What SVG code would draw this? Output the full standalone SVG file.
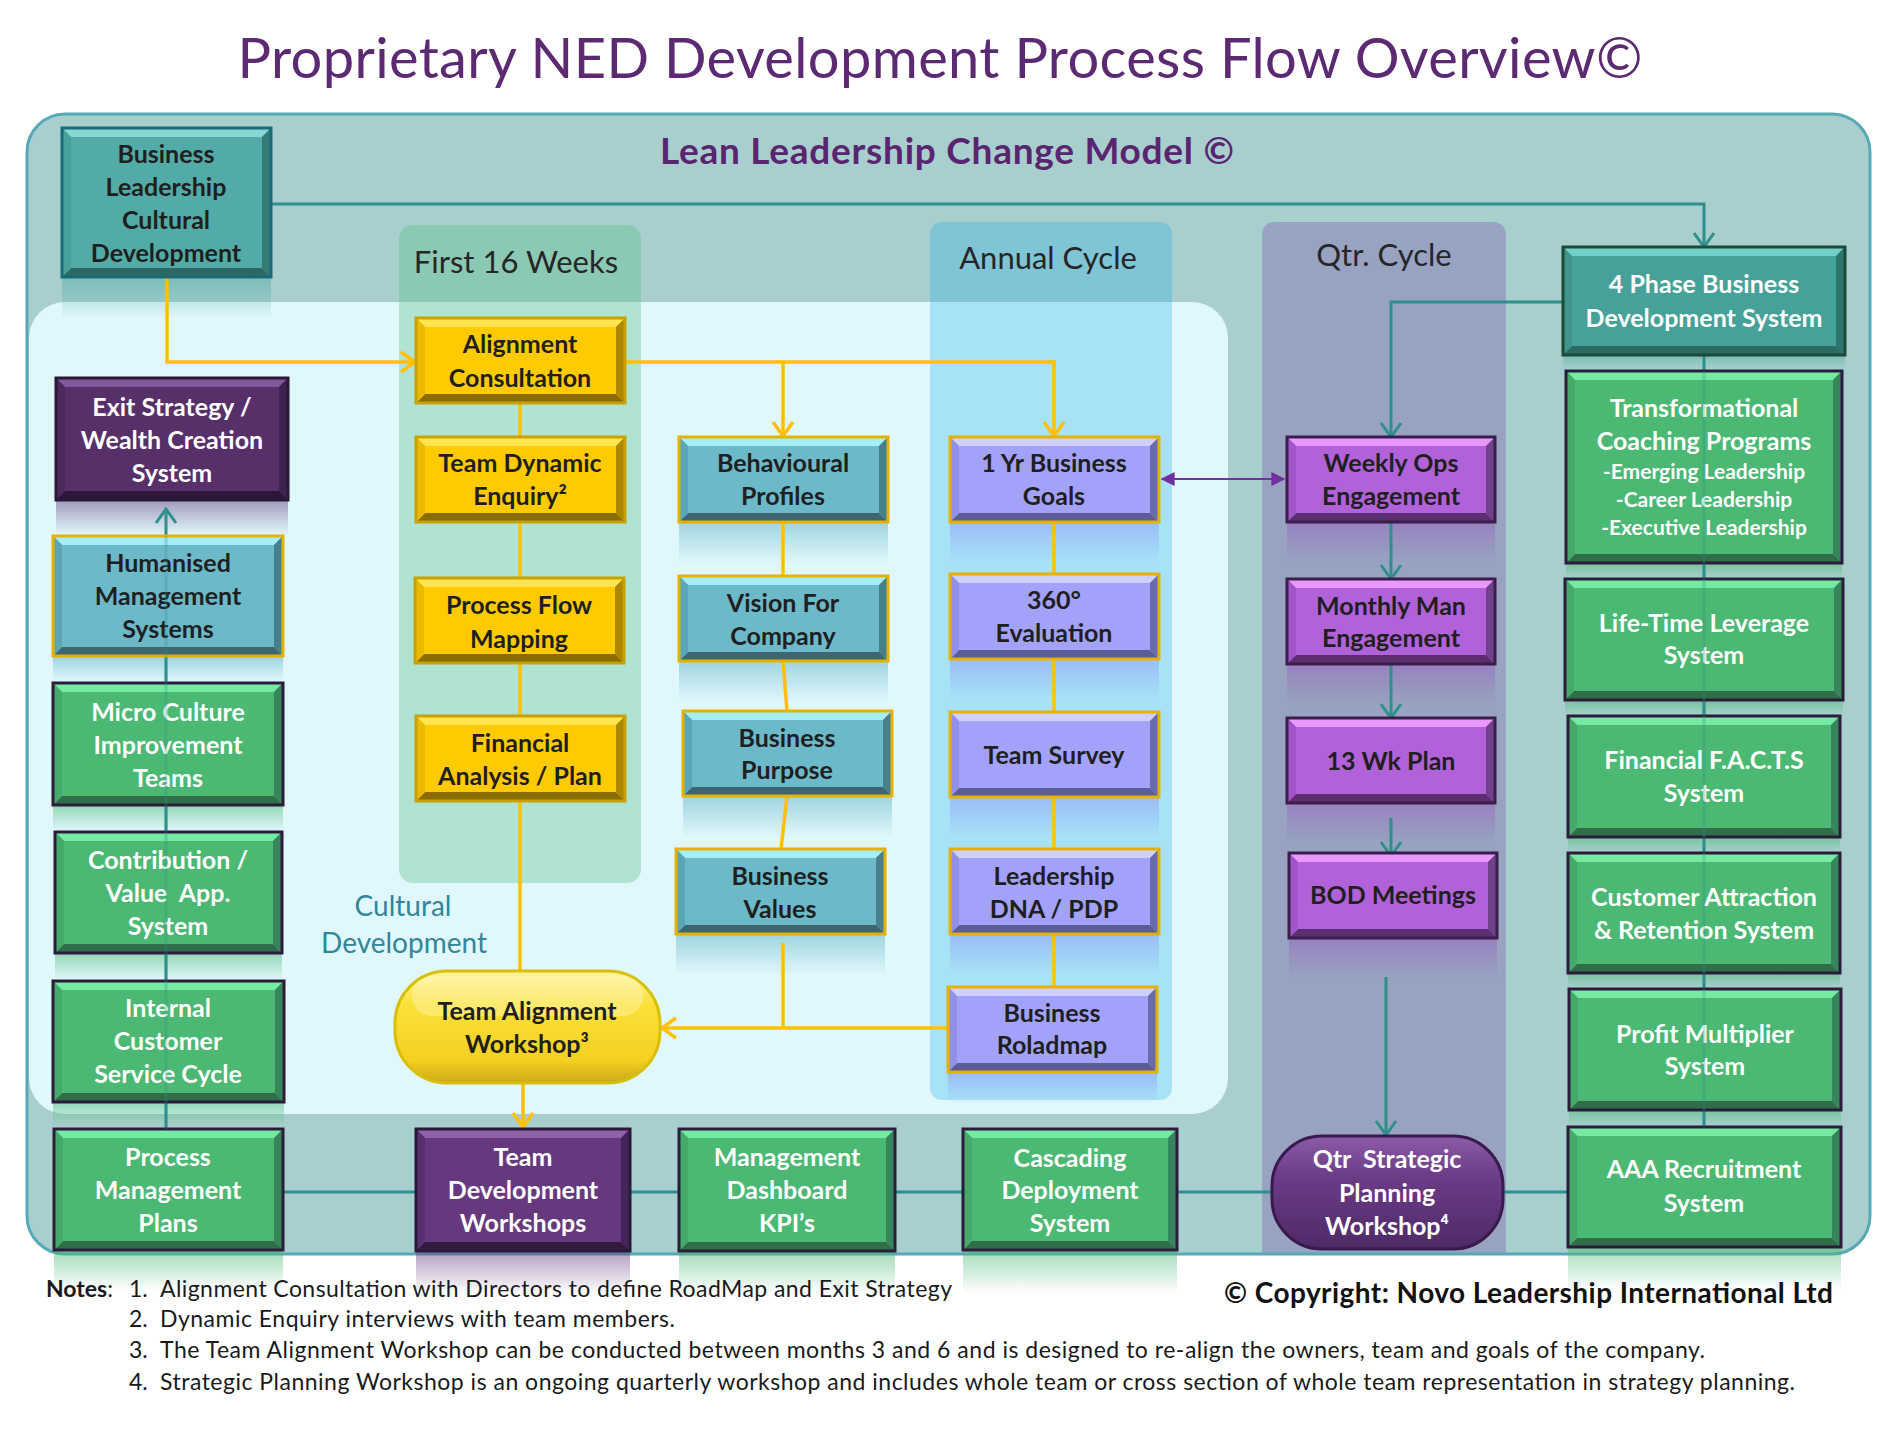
<svg xmlns="http://www.w3.org/2000/svg" width="1892" height="1440" viewBox="0 0 1892 1440">
<style>
text{font-family:Lato,"Open Sans","Liberation Sans",sans-serif}
.nd text{font-weight:700;font-size:25px;text-anchor:middle}
.nd .sm{font-size:21px}
.dk{fill:#1f1f1f}.wt{fill:#ffffff}
.bd{fill:none;stroke-width:3}
.yel .f{fill:#ffcb00}.yel .t{fill:#ffe650}.yel .b{fill:#8a6c00}.yel .l{fill:#eab900}.yel .r{fill:#ad8700}.yel .bd{stroke:#c7a200}
.blu .f{fill:#6cb9c9}.blu .t{fill:#a6eef6}.blu .b{fill:#3e6670}.blu .l{fill:#5ba6b5}.blu .r{fill:#47808c}.blu .bd{stroke:#e6b200}
.lav .f{fill:#a2a2fa}.lav .t{fill:#d0d0ff}.lav .b{fill:#5c5c96}.lav .l{fill:#9090e6}.lav .r{fill:#6a6aae}.lav .bd{stroke:#e6b200}
.mag .f{fill:#b262d8}.mag .t{fill:#e898ff}.mag .b{fill:#5c2e70}.mag .l{fill:#a055c8}.mag .r{fill:#70408a}.mag .bd{stroke:#3b1d4a}
.grn .f{fill:#4bb874}.grn .t{fill:#74eaa2}.grn .b{fill:#2f6e48}.grn .l{fill:#45a96a}.grn .r{fill:#37855a}.grn .bd{stroke:#2c1c3c}
.tea .f{fill:#52aba6}.tea .t{fill:#86d8d0}.tea .b{fill:#2d6864}.tea .l{fill:#48a09a}.tea .r{fill:#357a75}.tea .bd{stroke:#1a6a78}
.tea2 .f{fill:#46a198}.tea2 .t{fill:#72d0c6}.tea2 .b{fill:#2c6a62}.tea2 .l{fill:#3f948b}.tea2 .r{fill:#30756d}.tea2 .bd{stroke:#1c4a34}
.dpu .f{fill:#583069}.dpu .t{fill:#82589a}.dpu .b{fill:#2b1839}.dpu .l{fill:#4d2a5e}.dpu .r{fill:#3d2250}.dpu .bd{stroke:#2b1838}
.dpu2 .f{fill:#66397e}.dpu2 .t{fill:#8e62a6}.dpu2 .b{fill:#301a40}.dpu2 .l{fill:#573070}.dpu2 .r{fill:#45265a}.dpu2 .bd{stroke:#2b1838}
.ct{fill:none;stroke:#2f8f8b;stroke-width:3}
.cy{fill:none;stroke:#ffc000;stroke-width:3.5}
.hd{font-size:31px;fill:#262626;text-anchor:middle}
.note{font-size:23px;fill:#1a1a1a}
</style>
<defs>
<marker id="mT" viewBox="0 0 18 24" refX="16" refY="12" markerWidth="18" markerHeight="24" markerUnits="userSpaceOnUse" orient="auto"><path d="M2,2 L16,12 L2,22" fill="none" stroke="#2f8f8b" stroke-width="3"/></marker>
<marker id="mY" viewBox="0 0 18 24" refX="16" refY="12" markerWidth="18" markerHeight="24" markerUnits="userSpaceOnUse" orient="auto"><path d="M2,2 L16,12 L2,22" fill="none" stroke="#ffc000" stroke-width="3.5"/></marker>
<marker id="mP" viewBox="0 0 10 10" refX="9" refY="5" markerWidth="14" markerHeight="16" markerUnits="userSpaceOnUse" orient="auto-start-reverse"><path d="M0,0 L10,5 L0,10 z" fill="#7030a0"/></marker>
<linearGradient id="rfB" x1="0" y1="0" x2="0" y2="1"><stop offset="0" stop-color="#6cb9c9" stop-opacity=".55"/><stop offset="1" stop-color="#6cb9c9" stop-opacity="0"/></linearGradient>
<linearGradient id="rfL" x1="0" y1="0" x2="0" y2="1"><stop offset="0" stop-color="#8f9ff5" stop-opacity=".55"/><stop offset="1" stop-color="#8f9ff5" stop-opacity="0"/></linearGradient>
<linearGradient id="rfM" x1="0" y1="0" x2="0" y2="1"><stop offset="0" stop-color="#9a6cc0" stop-opacity=".6"/><stop offset="1" stop-color="#9a6cc0" stop-opacity="0"/></linearGradient>
<linearGradient id="rfG" x1="0" y1="0" x2="0" y2="1"><stop offset="0" stop-color="#4bb874" stop-opacity=".5"/><stop offset="1" stop-color="#4bb874" stop-opacity="0"/></linearGradient>
<linearGradient id="rfT" x1="0" y1="0" x2="0" y2="1"><stop offset="0" stop-color="#52aba6" stop-opacity=".5"/><stop offset="1" stop-color="#52aba6" stop-opacity="0"/></linearGradient>
<linearGradient id="rfP" x1="0" y1="0" x2="0" y2="1"><stop offset="0" stop-color="#6a4282" stop-opacity=".5"/><stop offset="1" stop-color="#6a4282" stop-opacity="0"/></linearGradient>
<linearGradient id="gTAW" x1="0" y1="0" x2="0" y2="1"><stop offset="0" stop-color="#fff4a0"/><stop offset=".3" stop-color="#fbe03a"/><stop offset=".8" stop-color="#f4d020"/><stop offset="1" stop-color="#c9a818"/></linearGradient>
<linearGradient id="gQtr" x1="0" y1="0" x2="0" y2="1"><stop offset="0" stop-color="#8c5ca8"/><stop offset=".35" stop-color="#6c3c88"/><stop offset="1" stop-color="#4e2a66"/></linearGradient>
</defs>
<rect width="1892" height="1440" fill="#ffffff"/>
<text x="940" y="78" font-size="56" fill="#5c2a72" text-anchor="middle" textLength="1405">Proprietary NED Development Process Flow Overview©</text>

<g id="panels">
<rect x="27" y="114" width="1843" height="1140" rx="38" fill="#a8cfcd"/>
<rect x="29" y="302" width="1199" height="812" rx="36" fill="#e0f7fb"/>
<rect x="399" y="225" width="242" height="658" rx="14" fill="rgb(88,190,134)" fill-opacity=".35"/>
<rect x="930" y="222" width="242" height="878" rx="12" fill="rgb(20,170,235)" fill-opacity=".27"/>
<path d="M1262,1254 V236 Q1262,222 1276,222 H1492 Q1506,222 1506,236 V1254 Z" fill="#97a3c0"/>
<rect x="27" y="114" width="1843" height="1140" rx="38" fill="none" stroke="#56a9b6" stroke-width="3"/>
<text x="947" y="164" font-size="37" font-weight="700" fill="#5a2570" text-anchor="middle" textLength="574">Lean Leadership Change Model ©</text>
<text class="hd" x="516" y="273">First 16 Weeks</text>
<text class="hd" x="1048" y="269">Annual Cycle</text>
<text class="hd" x="1384" y="266">Qtr. Cycle</text>
<text x="403" y="916" font-size="28" fill="#31869a" text-anchor="middle">Cultural</text>
<text x="404" y="953" font-size="28" fill="#31869a" text-anchor="middle">Development</text>
</g>

<g id="reflections">
<rect x="62" y="278" width="209" height="40" fill="url(#rfT)"/>
<rect x="56" y="501" width="232" height="34" fill="url(#rfP)"/>
<rect x="53" y="657" width="230" height="25" fill="url(#rfB)"/>
<rect x="53" y="806" width="230" height="25" fill="url(#rfG)"/>
<rect x="55" y="954" width="227" height="26" fill="url(#rfG)"/>
<rect x="53" y="1103" width="231" height="25" fill="url(#rfG)"/>
<rect x="54" y="1251" width="229" height="40" fill="url(#rfG)"/>
<rect x="679" y="523" width="209" height="40" fill="url(#rfB)"/>
<rect x="679" y="662" width="209" height="40" fill="url(#rfB)"/>
<rect x="683" y="797" width="209" height="40" fill="url(#rfB)"/>
<rect x="676" y="935" width="209" height="40" fill="url(#rfB)"/>
<rect x="950" y="523" width="209" height="40" fill="url(#rfL)"/>
<rect x="950" y="660" width="209" height="40" fill="url(#rfL)"/>
<rect x="950" y="798" width="209" height="40" fill="url(#rfL)"/>
<rect x="950" y="935" width="209" height="40" fill="url(#rfL)"/>
<rect x="948" y="1073" width="209" height="30" fill="url(#rfL)"/>
<rect x="1287" y="523" width="208" height="40" fill="url(#rfM)"/>
<rect x="1287" y="665" width="208" height="40" fill="url(#rfM)"/>
<rect x="1287" y="804" width="208" height="40" fill="url(#rfM)"/>
<rect x="1289" y="939" width="208" height="40" fill="url(#rfM)"/>
<rect x="1563" y="356" width="282" height="14" fill="url(#rfT)"/>
<rect x="1566" y="564" width="276" height="14" fill="url(#rfG)"/>
<rect x="1565" y="701" width="278" height="14" fill="url(#rfG)"/>
<rect x="1568" y="838" width="272" height="14" fill="url(#rfG)"/>
<rect x="1568" y="974" width="272" height="14" fill="url(#rfG)"/>
<rect x="1569" y="1111" width="272" height="15" fill="url(#rfG)"/>
<rect x="1568" y="1248" width="273" height="42" fill="url(#rfG)"/>
<rect x="416" y="1252" width="214" height="42" fill="url(#rfP)"/>
<rect x="679" y="1252" width="216" height="42" fill="url(#rfG)"/>
<rect x="963" y="1251" width="214" height="42" fill="url(#rfG)"/>
</g>

<g id="connectors">
<path class="ct" d="M271,204 H1704 V247" marker-end="url(#mT)"/>
<path class="ct" d="M1704,355 V1127"/>
<path class="ct" d="M1563,302 H1391 V437" marker-end="url(#mT)"/>
<path class="ct" d="M1391,522 V579" marker-end="url(#mT)"/>
<path class="ct" d="M1391,664 V718" marker-end="url(#mT)"/>
<path class="ct" d="M1391,818 V856" marker-end="url(#mT)"/>
<path class="ct" d="M1386,977 V1135" marker-end="url(#mT)"/>
<path class="ct" d="M166,1129 V509" marker-end="url(#mT)"/>
<path class="ct" d="M283,1192 H1568"/>
<path class="cy" d="M167,277 V362 H415" marker-end="url(#mY)"/>
<path class="cy" d="M625,362 H1054 V436" marker-end="url(#mY)"/>
<path class="cy" d="M783,362 V436" marker-end="url(#mY)"/>
<path class="cy" d="M520,403 V971"/>
<path class="cy" d="M783,522 V576"/>
<path class="cy" d="M783,661 L787,711"/>
<path class="cy" d="M787,796 L781,849"/>
<path class="cy" d="M783,943 V1028"/>
<path class="cy" d="M948,1028 H662" marker-end="url(#mY)"/>
<path class="cy" d="M1054,522 V987"/>
<path class="cy" d="M523,1083 V1127" marker-end="url(#mY)"/>
<path d="M1162,479 H1284" fill="none" stroke="#7030a0" stroke-width="2" marker-start="url(#mP)" marker-end="url(#mP)"/>
</g>

<g id="n-blcd" class="nd tea"><rect class="f" x="62" y="128" width="209" height="149"/><path class="t" d="M62,128h209l-9,9h-191z"/><path class="b" d="M62,277h209l-9,-9h-191z"/><path class="l" d="M62,128l9,9v131l-9,9z"/><path class="r" d="M271,128l-9,9v131l9,9z"/><rect class="bd" x="62" y="128" width="209" height="149"/>
<text class="dk" x="166" y="163">Business</text><text class="dk" x="166" y="196">Leadership</text><text class="dk" x="166" y="229">Cultural</text><text class="dk" x="166" y="262">Development</text></g>

<g id="n-exit" class="nd dpu"><rect class="f" x="56" y="378" width="232" height="122"/><path class="t" d="M56,378h232l-9,9h-214z"/><path class="b" d="M56,500h232l-9,-9h-214z"/><path class="l" d="M56,378l9,9v104l-9,9z"/><path class="r" d="M288,378l-9,9v104l9,9z"/><rect class="bd" x="56" y="378" width="232" height="122"/>
<text class="wt" x="172" y="416">Exit Strategy /</text><text class="wt" x="172" y="449">Wealth Creation</text><text class="wt" x="172" y="482">System</text></g>

<g id="n-humanised" class="nd blu"><rect class="f" x="53" y="536" width="230" height="120"/><path class="t" d="M53,536h230l-9,9h-212z"/><path class="b" d="M53,656h230l-9,-9h-212z"/><path class="l" d="M53,536l9,9v102l-9,9z"/><path class="r" d="M283,536l-9,9v102l9,9z"/><rect class="bd" x="53" y="536" width="230" height="120"/>
<text class="dk" x="168" y="572">Humanised</text><text class="dk" x="168" y="605">Management</text><text class="dk" x="168" y="638">Systems</text></g>

<g id="n-micro" class="nd grn"><rect class="f" x="53" y="683" width="230" height="122"/><path class="t" d="M53,683h230l-9,9h-212z"/><path class="b" d="M53,805h230l-9,-9h-212z"/><path class="l" d="M53,683l9,9v104l-9,9z"/><path class="r" d="M283,683l-9,9v104l9,9z"/><rect class="bd" x="53" y="683" width="230" height="122"/>
<text class="wt" x="168" y="721">Micro Culture</text><text class="wt" x="168" y="754">Improvement</text><text class="wt" x="168" y="787">Teams</text></g>

<g id="n-contribution" class="nd grn"><rect class="f" x="55" y="832" width="227" height="121"/><path class="t" d="M55,832h227l-9,9h-209z"/><path class="b" d="M55,953h227l-9,-9h-209z"/><path class="l" d="M55,832l9,9v103l-9,9z"/><path class="r" d="M282,832l-9,9v103l9,9z"/><rect class="bd" x="55" y="832" width="227" height="121"/>
<text class="wt" x="168" y="869">Contribution /</text><text class="wt" x="168" y="902" style="white-space:pre">Value  App.</text><text class="wt" x="168" y="935">System</text></g>

<g id="n-internal" class="nd grn"><rect class="f" x="53" y="981" width="231" height="121"/><path class="t" d="M53,981h231l-9,9h-213z"/><path class="b" d="M53,1102h231l-9,-9h-213z"/><path class="l" d="M53,981l9,9v103l-9,9z"/><path class="r" d="M284,981l-9,9v103l9,9z"/><rect class="bd" x="53" y="981" width="231" height="121"/>
<text class="wt" x="168" y="1017">Internal</text><text class="wt" x="168" y="1050">Customer</text><text class="wt" x="168" y="1083">Service Cycle</text></g>

<g id="n-procmgmt" class="nd grn"><rect class="f" x="54" y="1129" width="229" height="121"/><path class="t" d="M54,1129h229l-9,9h-211z"/><path class="b" d="M54,1250h229l-9,-9h-211z"/><path class="l" d="M54,1129l9,9v103l-9,9z"/><path class="r" d="M283,1129l-9,9v103l9,9z"/><rect class="bd" x="54" y="1129" width="229" height="121"/>
<text class="wt" x="168" y="1166">Process</text><text class="wt" x="168" y="1199">Management</text><text class="wt" x="168" y="1232">Plans</text></g>

<g id="n-alignment" class="nd yel"><rect class="f" x="416" y="318" width="209" height="85"/><path class="t" d="M416,318h209l-9,9h-191z"/><path class="b" d="M416,403h209l-9,-9h-191z"/><path class="l" d="M416,318l9,9v67l-9,9z"/><path class="r" d="M625,318l-9,9v67l9,9z"/><rect class="bd" x="416" y="318" width="209" height="85"/>
<text class="dk" x="520" y="353">Alignment</text><text class="dk" x="520" y="387">Consultation</text></g>

<g id="n-teamdyn" class="nd yel"><rect class="f" x="416" y="437" width="209" height="85"/><path class="t" d="M416,437h209l-9,9h-191z"/><path class="b" d="M416,522h209l-9,-9h-191z"/><path class="l" d="M416,437l9,9v67l-9,9z"/><path class="r" d="M625,437l-9,9v67l9,9z"/><rect class="bd" x="416" y="437" width="209" height="85"/>
<text class="dk" x="520" y="472">Team Dynamic</text><text class="dk" x="520" y="505">Enquiry²</text></g>

<g id="n-procflow" class="nd yel"><rect class="f" x="415" y="578" width="209" height="85"/><path class="t" d="M415,578h209l-9,9h-191z"/><path class="b" d="M415,663h209l-9,-9h-191z"/><path class="l" d="M415,578l9,9v67l-9,9z"/><path class="r" d="M624,578l-9,9v67l9,9z"/><rect class="bd" x="415" y="578" width="209" height="85"/>
<text class="dk" x="519" y="614">Process Flow</text><text class="dk" x="519" y="648">Mapping</text></g>

<g id="n-finanalysis" class="nd yel"><rect class="f" x="416" y="716" width="209" height="85"/><path class="t" d="M416,716h209l-9,9h-191z"/><path class="b" d="M416,801h209l-9,-9h-191z"/><path class="l" d="M416,716l9,9v67l-9,9z"/><path class="r" d="M625,716l-9,9v67l9,9z"/><rect class="bd" x="416" y="716" width="209" height="85"/>
<text class="dk" x="520" y="752">Financial</text><text class="dk" x="520" y="785">Analysis / Plan</text></g>

<g id="n-taw" class="nd"><rect x="395" y="971" width="265" height="112" rx="52" fill="url(#gTAW)" stroke="#d8c000" stroke-width="3"/><rect x="412" y="976" width="231" height="40" rx="20" fill="#fffbd0" fill-opacity=".35"/>
<text class="dk" x="527" y="1020">Team Alignment</text><text class="dk" x="527" y="1053">Workshop³</text></g>

<g id="n-behavioural" class="nd blu"><rect class="f" x="679" y="437" width="209" height="85"/><path class="t" d="M679,437h209l-9,9h-191z"/><path class="b" d="M679,522h209l-9,-9h-191z"/><path class="l" d="M679,437l9,9v67l-9,9z"/><path class="r" d="M888,437l-9,9v67l9,9z"/><rect class="bd" x="679" y="437" width="209" height="85"/>
<text class="dk" x="783" y="472">Behavioural</text><text class="dk" x="783" y="505">Profiles</text></g>

<g id="n-vision" class="nd blu"><rect class="f" x="679" y="576" width="209" height="85"/><path class="t" d="M679,576h209l-9,9h-191z"/><path class="b" d="M679,661h209l-9,-9h-191z"/><path class="l" d="M679,576l9,9v67l-9,9z"/><path class="r" d="M888,576l-9,9v67l9,9z"/><rect class="bd" x="679" y="576" width="209" height="85"/>
<text class="dk" x="783" y="612">Vision For</text><text class="dk" x="783" y="645">Company</text></g>

<g id="n-purpose" class="nd blu"><rect class="f" x="683" y="711" width="209" height="85"/><path class="t" d="M683,711h209l-9,9h-191z"/><path class="b" d="M683,796h209l-9,-9h-191z"/><path class="l" d="M683,711l9,9v67l-9,9z"/><path class="r" d="M892,711l-9,9v67l9,9z"/><rect class="bd" x="683" y="711" width="209" height="85"/>
<text class="dk" x="787" y="747">Business</text><text class="dk" x="787" y="779">Purpose</text></g>

<g id="n-values" class="nd blu"><rect class="f" x="676" y="849" width="209" height="85"/><path class="t" d="M676,849h209l-9,9h-191z"/><path class="b" d="M676,934h209l-9,-9h-191z"/><path class="l" d="M676,849l9,9v67l-9,9z"/><path class="r" d="M885,849l-9,9v67l9,9z"/><rect class="bd" x="676" y="849" width="209" height="85"/>
<text class="dk" x="780" y="885">Business</text><text class="dk" x="780" y="918">Values</text></g>

<g id="n-1yr" class="nd lav"><rect class="f" x="950" y="437" width="209" height="85"/><path class="t" d="M950,437h209l-9,9h-191z"/><path class="b" d="M950,522h209l-9,-9h-191z"/><path class="l" d="M950,437l9,9v67l-9,9z"/><path class="r" d="M1159,437l-9,9v67l9,9z"/><rect class="bd" x="950" y="437" width="209" height="85"/>
<text class="dk" x="1054" y="472">1 Yr Business</text><text class="dk" x="1054" y="505">Goals</text></g>

<g id="n-360" class="nd lav"><rect class="f" x="950" y="574" width="209" height="85"/><path class="t" d="M950,574h209l-9,9h-191z"/><path class="b" d="M950,659h209l-9,-9h-191z"/><path class="l" d="M950,574l9,9v67l-9,9z"/><path class="r" d="M1159,574l-9,9v67l9,9z"/><rect class="bd" x="950" y="574" width="209" height="85"/>
<text class="dk" x="1054" y="609">360°</text><text class="dk" x="1054" y="642">Evaluation</text></g>

<g id="n-teamsurvey" class="nd lav"><rect class="f" x="950" y="712" width="209" height="85"/><path class="t" d="M950,712h209l-9,9h-191z"/><path class="b" d="M950,797h209l-9,-9h-191z"/><path class="l" d="M950,712l9,9v67l-9,9z"/><path class="r" d="M1159,712l-9,9v67l9,9z"/><rect class="bd" x="950" y="712" width="209" height="85"/>
<text class="dk" x="1054" y="764">Team Survey</text></g>

<g id="n-leaddna" class="nd lav"><rect class="f" x="950" y="849" width="209" height="85"/><path class="t" d="M950,849h209l-9,9h-191z"/><path class="b" d="M950,934h209l-9,-9h-191z"/><path class="l" d="M950,849l9,9v67l-9,9z"/><path class="r" d="M1159,849l-9,9v67l9,9z"/><rect class="bd" x="950" y="849" width="209" height="85"/>
<text class="dk" x="1054" y="885">Leadership</text><text class="dk" x="1054" y="918">DNA / PDP</text></g>

<g id="n-roladmap" class="nd lav"><rect class="f" x="948" y="987" width="209" height="85"/><path class="t" d="M948,987h209l-9,9h-191z"/><path class="b" d="M948,1072h209l-9,-9h-191z"/><path class="l" d="M948,987l9,9v67l-9,9z"/><path class="r" d="M1157,987l-9,9v67l9,9z"/><rect class="bd" x="948" y="987" width="209" height="85"/>
<text class="dk" x="1052" y="1022">Business</text><text class="dk" x="1052" y="1054">Roladmap</text></g>

<g id="n-weekly" class="nd mag"><rect class="f" x="1287" y="437" width="208" height="85"/><path class="t" d="M1287,437h208l-9,9h-190z"/><path class="b" d="M1287,522h208l-9,-9h-190z"/><path class="l" d="M1287,437l9,9v67l-9,9z"/><path class="r" d="M1495,437l-9,9v67l9,9z"/><rect class="bd" x="1287" y="437" width="208" height="85"/>
<text class="dk" x="1391" y="472">Weekly Ops</text><text class="dk" x="1391" y="505">Engagement</text></g>

<g id="n-monthly" class="nd mag"><rect class="f" x="1287" y="579" width="208" height="85"/><path class="t" d="M1287,579h208l-9,9h-190z"/><path class="b" d="M1287,664h208l-9,-9h-190z"/><path class="l" d="M1287,579l9,9v67l-9,9z"/><path class="r" d="M1495,579l-9,9v67l9,9z"/><rect class="bd" x="1287" y="579" width="208" height="85"/>
<text class="dk" x="1391" y="615">Monthly Man</text><text class="dk" x="1391" y="647">Engagement</text></g>

<g id="n-13wk" class="nd mag"><rect class="f" x="1287" y="718" width="208" height="85"/><path class="t" d="M1287,718h208l-9,9h-190z"/><path class="b" d="M1287,803h208l-9,-9h-190z"/><path class="l" d="M1287,718l9,9v67l-9,9z"/><path class="r" d="M1495,718l-9,9v67l9,9z"/><rect class="bd" x="1287" y="718" width="208" height="85"/>
<text class="dk" x="1391" y="770">13 Wk Plan</text></g>

<g id="n-bod" class="nd mag"><rect class="f" x="1289" y="853" width="208" height="85"/><path class="t" d="M1289,853h208l-9,9h-190z"/><path class="b" d="M1289,938h208l-9,-9h-190z"/><path class="l" d="M1289,853l9,9v67l-9,9z"/><path class="r" d="M1497,853l-9,9v67l9,9z"/><rect class="bd" x="1289" y="853" width="208" height="85"/>
<text class="dk" x="1393" y="904">BOD Meetings</text></g>

<g id="n-qtrstrategic" class="nd"><rect x="1272" y="1136" width="231" height="113" rx="50" fill="url(#gQtr)" stroke="#3a1a4c" stroke-width="3"/>
<text class="wt" x="1387" y="1168" style="white-space:pre">Qtr  Strategic</text><text class="wt" x="1387" y="1202">Planning</text><text class="wt" x="1387" y="1235">Workshop⁴</text></g>

<g id="n-4phase" class="nd tea2"><rect class="f" x="1563" y="247" width="282" height="108"/><path class="t" d="M1563,247h282l-9,9h-264z"/><path class="b" d="M1563,355h282l-9,-9h-264z"/><path class="l" d="M1563,247l9,9v90l-9,9z"/><path class="r" d="M1845,247l-9,9v90l9,9z"/><rect class="bd" x="1563" y="247" width="282" height="108"/>
<text class="wt" x="1704" y="293">4 Phase Business</text><text class="wt" x="1704" y="327">Development System</text></g>

<g id="n-transformational" class="nd grn"><rect class="f" x="1566" y="371" width="276" height="192"/><path class="t" d="M1566,371h276l-9,9h-258z"/><path class="b" d="M1566,563h276l-9,-9h-258z"/><path class="l" d="M1566,371l9,9v174l-9,9z"/><path class="r" d="M1842,371l-9,9v174l9,9z"/><rect class="bd" x="1566" y="371" width="276" height="192"/>
<text class="wt" x="1704" y="417">Transformational</text><text class="wt" x="1704" y="450">Coaching Programs</text><text class="wt sm" x="1704" y="479">-Emerging Leadership</text><text class="wt sm" x="1704" y="507">-Career Leadership</text><text class="wt sm" x="1704" y="535">-Executive Leadership</text></g>

<g id="n-lifetime" class="nd grn"><rect class="f" x="1565" y="579" width="278" height="121"/><path class="t" d="M1565,579h278l-9,9h-260z"/><path class="b" d="M1565,700h278l-9,-9h-260z"/><path class="l" d="M1565,579l9,9v103l-9,9z"/><path class="r" d="M1843,579l-9,9v103l9,9z"/><rect class="bd" x="1565" y="579" width="278" height="121"/>
<text class="wt" x="1704" y="632">Life-Time Leverage</text><text class="wt" x="1704" y="664">System</text></g>

<g id="n-facts" class="nd grn"><rect class="f" x="1568" y="716" width="272" height="121"/><path class="t" d="M1568,716h272l-9,9h-254z"/><path class="b" d="M1568,837h272l-9,-9h-254z"/><path class="l" d="M1568,716l9,9v103l-9,9z"/><path class="r" d="M1840,716l-9,9v103l9,9z"/><rect class="bd" x="1568" y="716" width="272" height="121"/>
<text class="wt" x="1704" y="769">Financial F.A.C.T.S</text><text class="wt" x="1704" y="802">System</text></g>

<g id="n-customer" class="nd grn"><rect class="f" x="1568" y="853" width="272" height="120"/><path class="t" d="M1568,853h272l-9,9h-254z"/><path class="b" d="M1568,973h272l-9,-9h-254z"/><path class="l" d="M1568,853l9,9v102l-9,9z"/><path class="r" d="M1840,853l-9,9v102l9,9z"/><rect class="bd" x="1568" y="853" width="272" height="120"/>
<text class="wt" x="1704" y="906">Customer Attraction</text><text class="wt" x="1704" y="939">&amp; Retention System</text></g>

<g id="n-profit" class="nd grn"><rect class="f" x="1569" y="989" width="272" height="121"/><path class="t" d="M1569,989h272l-9,9h-254z"/><path class="b" d="M1569,1110h272l-9,-9h-254z"/><path class="l" d="M1569,989l9,9v103l-9,9z"/><path class="r" d="M1841,989l-9,9v103l9,9z"/><rect class="bd" x="1569" y="989" width="272" height="121"/>
<text class="wt" x="1705" y="1043">Profit Multiplier</text><text class="wt" x="1705" y="1075">System</text></g>

<g id="n-aaa" class="nd grn"><rect class="f" x="1568" y="1127" width="273" height="120"/><path class="t" d="M1568,1127h273l-9,9h-255z"/><path class="b" d="M1568,1247h273l-9,-9h-255z"/><path class="l" d="M1568,1127l9,9v102l-9,9z"/><path class="r" d="M1841,1127l-9,9v102l9,9z"/><rect class="bd" x="1568" y="1127" width="273" height="120"/>
<text class="wt" x="1704" y="1178">AAA Recruitment</text><text class="wt" x="1704" y="1212">System</text></g>

<g id="n-teamdev" class="nd dpu2"><rect class="f" x="416" y="1129" width="214" height="122"/><path class="t" d="M416,1129h214l-9,9h-196z"/><path class="b" d="M416,1251h214l-9,-9h-196z"/><path class="l" d="M416,1129l9,9v104l-9,9z"/><path class="r" d="M630,1129l-9,9v104l9,9z"/><rect class="bd" x="416" y="1129" width="214" height="122"/>
<text class="wt" x="523" y="1166">Team</text><text class="wt" x="523" y="1199">Development</text><text class="wt" x="523" y="1232">Workshops</text></g>

<g id="n-mgmtdash" class="nd grn"><rect class="f" x="679" y="1129" width="216" height="122"/><path class="t" d="M679,1129h216l-9,9h-198z"/><path class="b" d="M679,1251h216l-9,-9h-198z"/><path class="l" d="M679,1129l9,9v104l-9,9z"/><path class="r" d="M895,1129l-9,9v104l9,9z"/><rect class="bd" x="679" y="1129" width="216" height="122"/>
<text class="wt" x="787" y="1166">Management</text><text class="wt" x="787" y="1199">Dashboard</text><text class="wt" x="787" y="1232">KPI’s</text></g>

<g id="n-cascading" class="nd grn"><rect class="f" x="963" y="1129" width="214" height="121"/><path class="t" d="M963,1129h214l-9,9h-196z"/><path class="b" d="M963,1250h214l-9,-9h-196z"/><path class="l" d="M963,1129l9,9v103l-9,9z"/><path class="r" d="M1177,1129l-9,9v103l9,9z"/><rect class="bd" x="963" y="1129" width="214" height="121"/>
<text class="wt" x="1070" y="1167">Cascading</text><text class="wt" x="1070" y="1199">Deployment</text><text class="wt" x="1070" y="1232">System</text></g>

<g id="through-lines" opacity=".28">
<path class="ct" d="M166,536 V1129"/>
<path class="ct" d="M1704,371 V1127"/>
</g>

<g id="notes">
<text class="note" x="46" y="1297" font-weight="700">Notes<tspan font-weight="400">:</tspan></text>
<text class="note" x="129" y="1297">1.</text><text class="note" x="160" y="1297" textLength="792">Alignment Consultation with Directors to define RoadMap and Exit Strategy</text>
<text class="note" x="129" y="1327">2.</text><text class="note" x="160" y="1327" textLength="515">Dynamic Enquiry interviews with team members.</text>
<text class="note" x="129" y="1358">3.</text><text class="note" x="160" y="1358" textLength="1545">The Team Alignment Workshop can be conducted between months 3 and 6 and is designed to re-align the owners, team and goals of the company.</text>
<text class="note" x="129" y="1390">4.</text><text class="note" x="160" y="1390" textLength="1635">Strategic Planning Workshop is an ongoing quarterly workshop and includes whole team or cross section of whole team representation in strategy planning.</text>
<text x="1224" y="1303" font-size="28" font-weight="700" fill="#111111" textLength="609">© Copyright: Novo Leadership International Ltd</text>
</g>
</svg>
